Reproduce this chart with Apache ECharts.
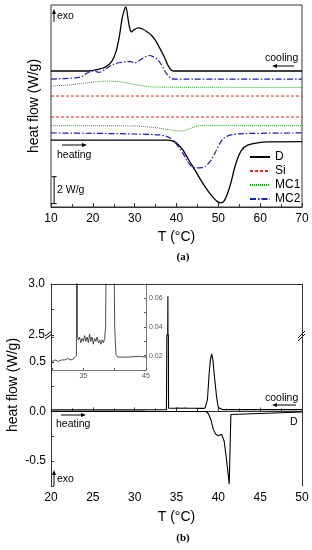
<!DOCTYPE html>
<html><head><meta charset="utf-8">
<script src="https://cdn.jsdelivr.net/npm/echarts@6/dist/echarts.min.js"></script>
<style>html,body{margin:0;padding:0;background:#fff}#c{width:312px;height:550px}</style>
</head><body><div id="c"></div>
<script>
// ===== panel (a): DSC curves, offset traces (W/g) =====
const aXTicks = [10, 20, 30, 40, 50, 60, 70];
const legendNames = ['D', 'Si', 'MC1', 'MC2'];
const dCool = [[10,10.1],[19,10.1],[21,10.2],[23,10.4],[24.5,10.8],[25.5,11.5],[26.3,12.6],[27,14.0],[27.5,14.6],[27.9,14.85],[28.4,14.0],[28.8,13.3],[29.2,13.0],[29.8,13.15],[30.8,13.3],[32,13.2],[33,13.0],[34,12.75],[35,12.35],[36,11.8],[37,11.2],[38,10.5],[38.8,10.15],[39.4,10.1],[70,10.1]];
const mc2Cool = [[10,9.5],[14,9.55],[17,9.65],[19,10.0],[20,10.1],[21.5,10.0],[23,10.25],[25,10.6],[27,10.75],[29,10.8],[30,10.7],[31,10.85],[32.5,11.15],[33.5,11.25],[34.5,11.15],[35.5,10.95],[36.5,10.5],[37.5,9.95],[38.5,9.6],[39.5,9.5],[70,9.5]];
const mc1Cool = [[10,8.98],[14,9.05],[18,9.2],[21,9.3],[24,9.35],[27,9.28],[30,9.1],[33,8.95],[36,8.9],[70,8.88]];
const siCool = [[10,8.24],[70,8.24]];
const siHeat = [[10,6.68],[70,6.68]];
const mc1Heat = [[10,6.04],[30,6.02],[33,5.95],[36,5.85],[38,5.75],[40,5.66],[41.5,5.65],[43,5.8],[44.5,5.98],[46,6.04],[70,6.04]];
const mc2Heat = [[10,5.5],[20,5.47],[30,5.42],[36,5.35],[38,5.2],[39.5,4.85],[40.5,4.45],[41.5,4.0],[42.5,3.45],[43.5,3.05],[44.7,2.9],[46,2.92],[47,3.05],[48.3,3.5],[49.5,4.2],[50.5,4.8],[51.5,5.15],[53,5.35],[56,5.45],[70,5.5]];
const dHeat = [[10,4.97],[38,4.97],[39.5,4.85],[40.5,4.6],[41.6,4.2],[43,3.45],[44.5,2.7],[46,1.9],[47.5,1.2],[48.8,0.7],[49.8,0.4],[50.6,0.3],[51.4,0.45],[52.2,1.0],[53,1.8],[53.8,2.8],[54.6,3.6],[55.6,4.25],[57,4.6],[59,4.75],[62,4.83],[70,4.85]];
const scaleBar = [[10.75,0.25],[10.75,2.25]]; // 2 W/g

// ===== panel (b): sample D =====
const bXTicks = [20, 25, 30, 35, 40, 45, 50];
const bYTicksLow = [-0.5, 0.0, 0.5];
const bYTicksHigh = [2.5, 3.0];
const insetYTicks = [0.02, 0.04, 0.06];
const insetXTicks = [35, 45];
const bCool = [[20,0.016],[30,0.016],[30.5,0.017],[31,0.016],[31.5,0.017],[32,0.017],[32.5,0.018],[33,0.017],[33.5,0.018],[33.8,0.019],[33.9,0.02],[33.97,2.88],[34.05,0.034],[34.2,0.031],[34.4,0.033],[34.6,0.029],[34.8,0.032],[35.0,0.030],[35.2,0.034],[35.4,0.030],[35.6,0.033],[35.8,0.029],[36.0,0.035],[36.2,0.030],[36.4,0.033],[36.6,0.028],[36.8,0.032],[37.0,0.030],[37.2,0.033],[37.4,0.029],[37.6,0.031],[37.8,0.028],[38.0,0.031],[38.2,0.029],[38.4,0.032],[38.55,0.04],[38.7,0.12],[38.9,0.38],[39.05,0.52],[39.2,0.58],[39.35,0.52],[39.5,0.38],[39.8,0.14],[40.0,0.04],[40.2,0.021],[40.5,0.019],[42,0.019],[44,0.0195],[45,0.019],[50,0.019]];
const bHeat = [[20,0],[38.5,0],[38.8,-0.02],[39.1,-0.08],[39.4,-0.18],[39.7,-0.23],[40.0,-0.245],[40.4,-0.23],[40.7,-0.3],[41.0,-0.5],[41.3,-0.73],[41.5,-0.03],[41.6,-0.01],[50,-0.005]];

const FF = 'Liberation Sans';
const AX = '#333';
const chart = echarts.init(document.getElementById('c'), null, {renderer:'canvas'});

function fmtIn(list, dec){ return function(v){ for (const t of list){ if (Math.abs(v-t) < 1e-6) return t.toFixed(dec); } return ''; }; }

function arrow(x1, y1, x2, y2){ // tip at (x2,y2)
  const dx = x2-x1, dy = y2-y1, L = Math.hypot(dx,dy), ux = dx/L, uy = dy/L;
  const hl = 5, hw = 2;
  const bx = x2-ux*hl, by = y2-uy*hl;
  return [
    {type:'line', shape:{x1:x1,y1:y1,x2:bx,y2:by}, style:{stroke:'#000', lineWidth:1}},
    {type:'polygon', shape:{points:[[x2,y2],[bx-uy*hw,by+ux*hw],[bx+uy*hw,by-ux*hw]]}, style:{fill:'#000'}}
  ];
}
function txt(x, y, s, size, opts){ return Object.assign({type:'text', x:x, y:y, style:Object.assign({text:s, fontSize:size, fontFamily:FF, fill:'#000', verticalAlign:'middle'}, opts||{})}); }

const lineBase = {type:'line', symbol:'none', animation:false, silent:true};
const colD = '#000', colSi = '#e8221f', colMC1 = '#1aa61a', colMC2 = '#1a1acc';

const option = {
  animation:false,
  backgroundColor:'#fff',
  grid:[
    {left:51, top:5, width:251, height:202, show:true, borderColor:AX, borderWidth:1, backgroundColor:'transparent'},
    {left:51, top:335, width:251, height:151},
    {left:51, top:284, width:251, height:51},
    {left:52, top:284, width:94, height:86}
  ],
  legend:{left:249, top:151, orient:'vertical', itemWidth:20, itemHeight:10, itemGap:2, padding:0, data:legendNames, itemStyle:{opacity:0}, textStyle:{fontSize:12, fontFamily:FF, color:'#000'}},
  xAxis:[
    {gridIndex:0, type:'value', min:10, max:70, interval:10, axisLine:{lineStyle:{color:AX}}, axisTick:{inside:true, length:4, lineStyle:{color:AX}}, minorTick:{show:true, splitNumber:2, length:3, lineStyle:{color:AX}}, splitLine:{show:false}, axisLabel:{color:'#000', fontSize:12, fontFamily:FF, margin:6}, name:'T (°C)', nameLocation:'middle', nameGap:23, nameTextStyle:{fontSize:14, fontFamily:FF, color:'#000'}},
    {gridIndex:1, type:'value', min:20, max:50, interval:5, axisLine:{lineStyle:{color:AX}}, axisTick:{inside:true, length:4, lineStyle:{color:AX}}, minorTick:{show:true, splitNumber:2, length:3, lineStyle:{color:AX}}, splitLine:{show:false}, axisLabel:{color:'#000', fontSize:12, fontFamily:FF, margin:6}, name:'T (°C)', nameLocation:'middle', nameGap:24, nameTextStyle:{fontSize:14, fontFamily:FF, color:'#000'}},
    {gridIndex:2, type:'value', min:20, max:50, position:'top', axisLine:{lineStyle:{color:AX}}, axisTick:{show:false}, axisLabel:{show:false}, splitLine:{show:false}},
    {gridIndex:3, type:'value', min:30, max:45, interval:5, axisLine:{lineStyle:{color:'#555', width:0.8}}, axisTick:{inside:true, length:2, lineStyle:{color:'#555'}}, splitLine:{show:false}, axisLabel:{color:'#555', fontSize:7, fontFamily:FF, margin:3, formatter:fmtIn(insetXTicks,0)}}
  ],
  yAxis:[
    {gridIndex:0, type:'value', min:0, max:15, axisLine:{show:false}, axisTick:{show:false}, axisLabel:{show:false}, splitLine:{show:false}, name:'heat flow (W/g)', nameLocation:'middle', nameGap:10, nameTextStyle:{fontSize:14, fontFamily:FF, color:'#000'}},
    {gridIndex:1, type:'value', min:-0.75, max:0.77, interval:0.25, axisLine:{lineStyle:{color:AX}}, axisTick:{inside:true, length:3, lineStyle:{color:AX}}, splitLine:{show:false}, axisLabel:{color:'#000', fontSize:12, fontFamily:FF, margin:5, formatter:fmtIn(bYTicksLow,1)}},
    {gridIndex:1, type:'value', min:-0.75, max:0.77, position:'right', axisLine:{show:true, lineStyle:{color:AX}}, axisTick:{show:false}, axisLabel:{show:false}, splitLine:{show:false}},
    {gridIndex:2, type:'value', min:2.5, max:3.0, interval:0.25, axisLine:{lineStyle:{color:AX}}, axisTick:{inside:true, length:3, lineStyle:{color:AX}}, splitLine:{show:false}, axisLabel:{color:'#000', fontSize:12, fontFamily:FF, margin:6, formatter:fmtIn(bYTicksHigh,1)}},
    {gridIndex:2, type:'value', min:2.5, max:3.0, position:'right', axisLine:{show:true, lineStyle:{color:AX}}, axisTick:{show:false}, axisLabel:{show:false}, splitLine:{show:false}},
    {gridIndex:3, type:'value', min:0.01, max:0.07, interval:0.01, position:'right', axisLine:{lineStyle:{color:'#555', width:0.8}}, axisTick:{inside:true, length:2, lineStyle:{color:'#555'}}, splitLine:{show:false}, axisLabel:{color:'#555', fontSize:7, fontFamily:FF, margin:3, formatter:fmtIn(insetYTicks,2)}}
  ],
  series:[
    Object.assign({}, lineBase, {name:'D', xAxisIndex:0, yAxisIndex:0, data:dCool, smooth:0.3, lineStyle:{color:colD, width:1.3}, itemStyle:{color:colD}}),
    Object.assign({}, lineBase, {name:'D', xAxisIndex:0, yAxisIndex:0, data:dHeat, smooth:0.3, lineStyle:{color:colD, width:1.3}, itemStyle:{color:colD}}),
    Object.assign({}, lineBase, {name:'Si', xAxisIndex:0, yAxisIndex:0, data:siCool, lineStyle:{color:colSi, width:1, type:[3,2]}, itemStyle:{color:colSi}}),
    Object.assign({}, lineBase, {name:'Si', xAxisIndex:0, yAxisIndex:0, data:siHeat, lineStyle:{color:colSi, width:1, type:[3,2]}, itemStyle:{color:colSi}}),
    Object.assign({}, lineBase, {name:'MC1', xAxisIndex:0, yAxisIndex:0, data:mc1Cool, smooth:0.3, lineStyle:{color:colMC1, width:1, type:[1,1]}, itemStyle:{color:colMC1}}),
    Object.assign({}, lineBase, {name:'MC1', xAxisIndex:0, yAxisIndex:0, data:mc1Heat, smooth:0.3, lineStyle:{color:colMC1, width:1, type:[1,1]}, itemStyle:{color:colMC1}}),
    Object.assign({}, lineBase, {name:'MC2', xAxisIndex:0, yAxisIndex:0, data:mc2Cool, smooth:0.3, lineStyle:{color:colMC2, width:1.2, type:[6,2,1.5,2]}, itemStyle:{color:colMC2}}),
    Object.assign({}, lineBase, {name:'MC2', xAxisIndex:0, yAxisIndex:0, data:mc2Heat, smooth:0.3, lineStyle:{color:colMC2, width:1.2, type:[6,2,1.5,2]}, itemStyle:{color:colMC2}}),
    {type:'line', name:'scale', xAxisIndex:0, yAxisIndex:0, data:scaleBar, symbol:'rect', symbolSize:[5,1], showSymbol:true, lineStyle:{color:'#000', width:1}, itemStyle:{color:'#000'}, silent:true, animation:false},
    Object.assign({}, lineBase, {name:'bHeat', xAxisIndex:1, yAxisIndex:1, data:bHeat, lineStyle:{color:'#000', width:1.1}}),
    Object.assign({}, lineBase, {name:'bCool', xAxisIndex:1, yAxisIndex:1, data:bCool, lineStyle:{color:'#000', width:1.1}}),
    Object.assign({}, lineBase, {name:'bCoolHi', xAxisIndex:2, yAxisIndex:3, data:bCool, lineStyle:{color:'#000', width:1.1}}),
    Object.assign({}, lineBase, {name:'inset', xAxisIndex:3, yAxisIndex:5, data:bCool, lineStyle:{color:'#222', width:0.8}})
  ],
  graphic:[].concat(
    arrow(54, 22, 54, 9), [txt(57, 16, 'exo', 10.5)],
    [txt(265, 58, 'cooling', 10.5)], arrow(294, 66, 272, 66),
    arrow(62, 145, 87, 145), [txt(57, 155, 'heating', 10.5)],
    [txt(57, 190, '2 W/g', 10.5)],
    [{type:'text', x:183, y:257, style:{text:'(a)', fontSize:11, fontFamily:'Liberation Serif', fontWeight:'bold', fill:'#000', align:'center', verticalAlign:'middle'}}],
    [{type:'text', x:13, y:385, rotation:Math.PI/2, style:{text:'heat flow (W/g)', fontSize:14, fontFamily:FF, fill:'#000', align:'center', verticalAlign:'middle'}}],
    [txt(265, 398, 'cooling', 10.5)], arrow(296, 405, 272, 405),
    [txt(290, 422, 'D', 10.5)],
    arrow(61, 415, 86, 415), [txt(56, 424, 'heating', 10.5)],
    arrow(54, 486, 54, 470), [txt(57, 479, 'exo', 10.5)],
    [{type:'text', x:183, y:538, style:{text:'(b)', fontSize:11, fontFamily:'Liberation Serif', fontWeight:'bold', fill:'#000', align:'center', verticalAlign:'middle'}}],
    [
      {type:'line', shape:{x1:45,y1:336,x2:52,y2:331}, style:{stroke:'#000', lineWidth:1}},
      {type:'line', shape:{x1:45,y1:339,x2:52,y2:334}, style:{stroke:'#000', lineWidth:1}},
      {type:'line', shape:{x1:298,y1:338,x2:305,y2:331}, style:{stroke:'#000', lineWidth:1}},
      {type:'line', shape:{x1:298,y1:341,x2:305,y2:334}, style:{stroke:'#000', lineWidth:1}}
    ]
  )
};
chart.setOption(option);
</script></body></html>
